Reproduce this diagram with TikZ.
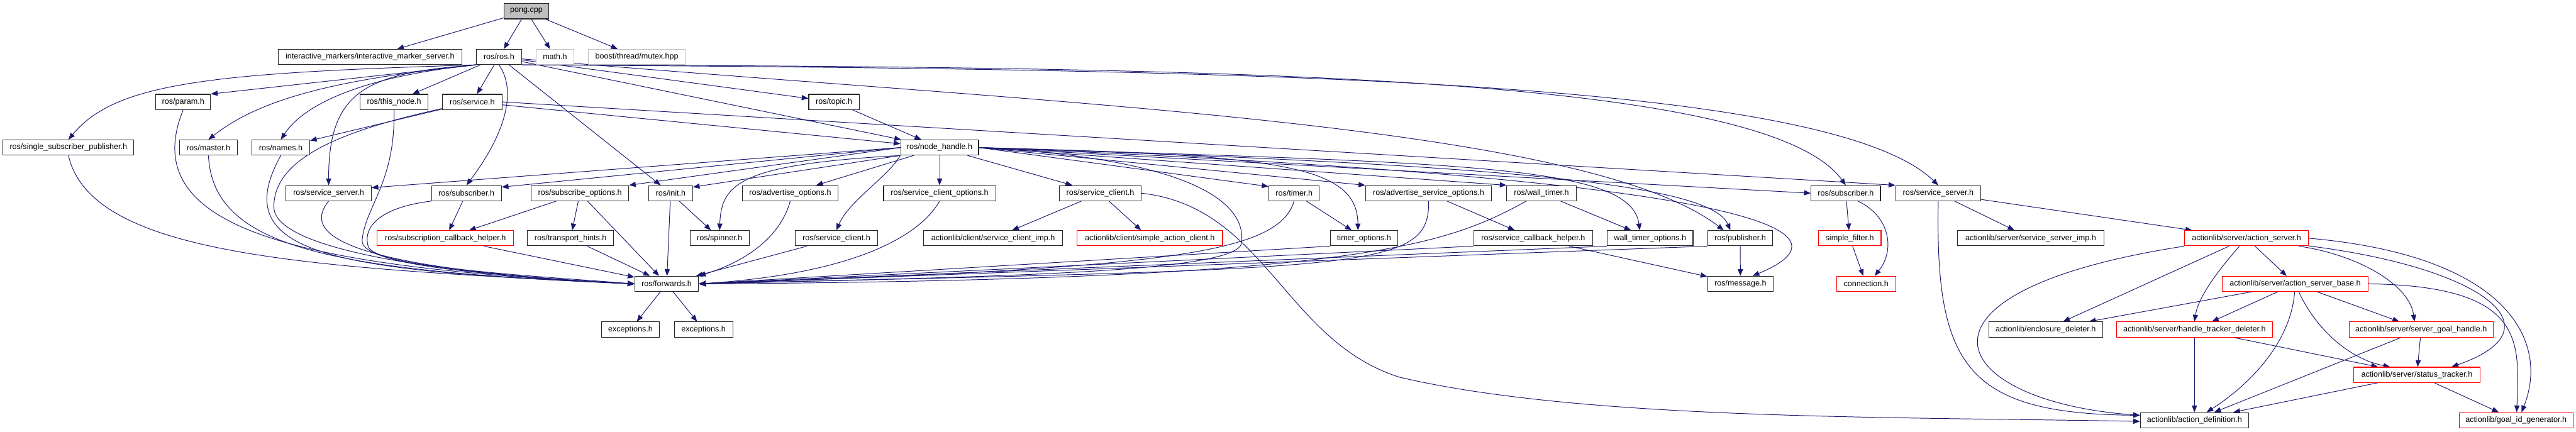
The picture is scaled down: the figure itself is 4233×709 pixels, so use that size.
\documentclass[tikz,border=0pt]{standalone}
\usepackage{fontspec}
\setmainfont{Liberation Sans}
\usetikzlibrary{arrows.meta,backgrounds}
\definecolor{edgeblue}{HTML}{191970}
\definecolor{boxgray}{HTML}{BFBFBF}
\definecolor{boxred}{HTML}{FF0000}
\newcommand{\mynode}[6]{\node[#6, minimum width=#4pt] (#1) at (#2,#3) {#5};}
\begin{document}
\begin{tikzpicture}[x=1pt,y=-1pt,
  box/.style={draw=black!85, line width=1.1pt, fill=white, minimum height=25pt, inner sep=0pt, font=\fontsize{13}{15}\selectfont},
  rbox/.style={box, draw=boxred},
  gbox/.style={box, draw=boxgray},
  pbox/.style={box, fill=boxgray},
  dep/.style={draw=edgeblue, line width=1pt, -{Triangle[length=11pt,width=8.5pt]}}]
\useasboundingbox (0,0) rectangle (4233,709);
% nodes
\mynode{pong}{865}{18.5}{74}{pong.cpp}{pbox}
\mynode{ims}{608}{93.5}{302}{interactive\_markers/interactive\_marker\_server.h}{box}
\mynode{ros}{820}{93.5}{74}{ros/ros.h}{box}
\mynode{math}{912}{93.5}{62}{math.h}{gbox}
\mynode{mutex}{1046.5}{93.5}{159}{boost/thread/mutex.hpp}{gbox}
\mynode{param}{301}{167.5}{90}{ros/param.h}{box}
\mynode{thisnode}{647.5}{167.5}{111}{ros/this\_node.h}{box}
\mynode{service}{776}{167.5}{98}{ros/service.h}{box}
\mynode{topic}{1370.5}{167.5}{83}{ros/topic.h}{box}
\mynode{ssp}{112.5}{242.5}{215}{ros/single\_subscriber\_publisher.h}{box}
\mynode{master}{342.5}{242.5}{95}{ros/master.h}{box}
\mynode{names}{461.5}{242.5}{95}{ros/names.h}{box}
\mynode{nh}{1544}{242.5}{128}{ros/node\_handle.h}{box}
\mynode{ssL}{540}{317.5}{140}{ros/service\_server.h}{box}
\mynode{subL}{766.5}{317.5}{115}{ros/subscriber.h}{box}
\mynode{subopt}{953}{317.5}{160}{ros/subscribe\_options.h}{box}
\mynode{init}{1102}{317.5}{72}{ros/init.h}{box}
\mynode{advopt}{1298.5}{317.5}{157}{ros/advertise\_options.h}{box}
\mynode{sco}{1544}{317.5}{184}{ros/service\_client\_options.h}{box}
\mynode{scfour}{1808}{317.5}{134}{ros/service\_client.h}{box}
\mynode{timer}{2126.5}{317.5}{83}{ros/timer.h}{box}
\mynode{asopt}{2347.5}{317.5}{207}{ros/advertise\_service\_options.h}{box}
\mynode{wtimer}{2533}{317.5}{114}{ros/wall\_timer.h}{box}
\mynode{subR}{3033}{317.5}{114}{ros/subscriber.h}{box}
\mynode{ssR}{3185}{317.5}{140}{ros/service\_server.h}{box}
\mynode{sch}{732}{391.5}{224}{ros/subscription\_callback\_helper.h}{rbox}
\mynode{thints}{937.5}{391.5}{141}{ros/transport\_hints.h}{box}
\mynode{spinner}{1182.5}{391.5}{97}{ros/spinner.h}{box}
\mynode{scfive}{1374.5}{391.5}{135}{ros/service\_client.h}{box}
\mynode{scimp}{1632}{391.5}{228}{actionlib/client/service\_client\_imp.h}{box}
\mynode{sac}{1889.5}{391.5}{239}{actionlib/client/simple\_action\_client.h}{rbox}
\mynode{topt}{2241.5}{391.5}{111}{timer\_options.h}{box}
\mynode{scbh}{2519.5}{391.5}{195}{ros/service\_callback\_helper.h}{box}
\mynode{wtopt}{2711.5}{391.5}{141}{wall\_timer\_options.h}{box}
\mynode{pub}{2859.5}{391.5}{107}{ros/publisher.h}{box}
\mynode{sfilter}{3039.5}{391.5}{103}{simple\_filter.h}{rbox}
\mynode{ssimp}{3337}{391.5}{240}{actionlib/server/service\_server\_imp.h}{box}
\mynode{as}{3691.5}{391.5}{203}{actionlib/server/action\_server.h}{rbox}
\mynode{fwd}{1095.5}{466.5}{105}{ros/forwards.h}{box}
\mynode{msg}{2860}{466.5}{108}{ros/message.h}{box}
\mynode{conn}{3066.5}{466.5}{97}{connection.h}{rbox}
\mynode{asb}{3771.5}{466.5}{239}{actionlib/server/action\_server\_base.h}{rbox}
\mynode{excone}{1036}{541.5}{96}{exceptions.h}{box}
\mynode{exctwo}{1156}{541.5}{96}{exceptions.h}{box}
\mynode{encl}{3361.5}{541.5}{187}{actionlib/enclosure\_deleter.h}{box}
\mynode{htd}{3606}{541.5}{256}{actionlib/server/handle\_tracker\_deleter.h}{rbox}
\mynode{sgh}{3978.5}{541.5}{237}{actionlib/server/server\_goal\_handle.h}{rbox}
\mynode{st}{3971.5}{616}{207}{actionlib/server/status\_tracker.h}{rbox}
\mynode{ad}{3606}{690.5}{178}{actionlib/action\_definition.h}{box}
\mynode{gid}{4134.5}{690.5}{187}{actionlib/goal\_id\_generator.h}{rbox}
\begin{scope}[on background layer]
\fill[white] (0,0) rectangle (4233,709);
% pong
\draw[dep] (pong) -- (ims);
\draw[dep] (pong) -- (ros);
\draw[dep] (pong) -- (math);
\draw[dep] (pong) -- (mutex);
% ros
\draw[dep] (ros.south west) .. controls (350,120) and (190,135) .. (ssp.north);
\draw[dep] (ros.south west) -- (param.north east);
\draw[dep] (ros.south west) .. controls (560,130) and (430,160) .. (master.north);
\draw[dep] (ros.south west) .. controls (600,125) and (500,170) .. (names.north);
\draw[dep] (ros) -- (thisnode);
\draw[dep] (ros) -- (service);
\draw[dep] (ros.south west) .. controls (600,120) and (540,150) .. (ssL.north);
\draw[dep] (ros.south) .. controls (850,150) and (830,220) .. (subL.north);
\draw[dep] (ros) -- (init);
\draw[dep] (ros) -- (nh);
\draw[dep] (ros) -- (topic);
\draw[dep] (ros) .. controls (1700,170) and (2600,200) .. ([xshift=-27pt]pub.north);
\draw[dep] (ros.south east) .. controls (2000,110) and (2900,120) .. (subR.north);
\draw[dep] (ros.south east) .. controls (2000,114) and (3000,125) .. (ssR.north);
% service
\draw[dep] (service) -- (names);
\draw[dep] (service) .. controls (560,215) and (450,260) .. (450,340) .. controls (450,420) and (800,455) .. (fwd.west);
\draw[dep] (service) -- (nh);
\draw[dep] (service.east) -- (ssR.north west);
\draw[dep] (topic) -- (nh);
% into forwards from the left
\draw[dep] (ssp.south) .. controls (150,420) and (500,440) .. (fwd.west);
\draw[dep] (param.south) .. controls (220,380) and (500,440) .. (fwd.west);
\draw[dep] (master.south) .. controls (350,410) and (550,445) .. (fwd.west);
\draw[dep] (names.south) .. controls (370,420) and (550,445) .. (fwd.west);
\draw[dep] (thisnode.south) .. controls (650,300) and (600,340) .. (595,395) .. controls (592,440) and (850,455) .. (fwd.west);
\draw[dep] (ssL.south) .. controls (500,380) and (540,440) .. (fwd.west);
\draw[dep] (subL) -- (sch);
\draw[dep] (subL.south west) .. controls (630,340) and (595,370) .. (605,405) .. controls (615,440) and (900,455) .. (fwd.west);
\draw[dep] (subopt) -- (sch);
\draw[dep] (subopt) -- (thints);
\draw[dep] (subopt) -- (fwd);
\draw[dep] (sch) -- (fwd);
\draw[dep] (thints) -- (fwd);
\draw[dep] (init) -- (fwd);
\draw[dep] (init) -- (spinner);
\draw[dep] (advopt.south) .. controls (1285,380) and (1240,425) .. (fwd.north east);
% node_handle
\draw[dep] (nh.west) -- ([yshift=-4pt]ssL.north east);
\draw[dep] (nh.west) -- ([yshift=-3pt]subL.north east);
\draw[dep] (nh.west) -- (subopt.north east);
\draw[dep] (nh.south west) -- ([yshift=-3pt]init.north east);
\draw[dep] (nh) -- (advopt);
\draw[dep] (nh) -- (sco);
\draw[dep] (nh) -- (scfour);
\draw[dep] (nh.east) -- ([yshift=-2pt]timer.north west);
\draw[dep] (nh.east) -- (asopt.north west);
\draw[dep] (nh.east) -- (wtimer.north west);
\draw[dep] (nh.east) .. controls (2100,255) and (2230,270) .. ([xshift=-10pt]topt.north);
\draw[dep] (nh.east) .. controls (2400,268) and (2680,270) .. ([xshift=-17pt]wtopt.north);
\draw[dep] (nh.east) .. controls (2450,270) and (2810,300) .. ([xshift=-16pt]pub.north);
\draw[dep] (nh.east) -- (subR.west);
\draw[dep] (nh.east) .. controls (2800,290) and (3080,370) .. ([xshift=20pt]msg.north);
\draw[dep] (nh.south west) .. controls (1220,270) and (1185,300) .. (spinner.north);
\draw[dep] (nh.south west) .. controls (1460,290) and (1395,330) .. (scfive.north);
\draw[dep] (nh.east) .. controls (1950,260) and (2050,330) .. (2040,400) .. controls (2030,450) and (1600,455) .. (fwd.east);
% service clients
\draw[dep] (sco.south) .. controls (1510,390) and (1400,450) .. (fwd.east);
\draw[dep] (scfive) -- (fwd);
\draw[dep] (scfour) -- (scimp);
\draw[dep] (scfour) -- (sac);
\draw[dep] (scfour.east) .. controls (2080,340) and (2110,560) .. (2300,620) .. controls (2600,690) and (3100,685) .. ([yshift=-2pt]ad.west);
% timers and options
\draw[dep] (timer) -- (topt);
\draw[dep] (timer.south) .. controls (2100,420) and (1900,440) .. (fwd.east);
\draw[dep] (asopt) -- (scbh);
\draw[dep] (asopt.south) .. controls (2350,445) and (2250,440) .. (fwd.east);
\draw[dep] (wtimer) -- (wtopt);
\draw[dep] ([xshift=-25pt]wtimer.south) .. controls (2380,400) and (2250,460) .. (fwd.east);
\draw[dep] (topt.south west) -- (fwd.east);
\draw[dep] (scbh.south west) -- (fwd.east);
\draw[dep] (scbh) -- (msg);
\draw[dep] (wtopt.south west) -- (fwd.east);
\draw[dep] (pub.south west) -- (fwd.east);
\draw[dep] (pub) -- (msg);
% subscriber / service server (right)
\draw[dep] (subR) -- (sfilter);
\draw[dep] ([xshift=20pt]subR.south) .. controls (3105,355) and (3115,410) .. ([xshift=14pt]conn.north);
\draw[dep] (sfilter) -- (conn);
\draw[dep] (ssR) -- (ssimp);
\draw[dep] (ssR) -- (as);
\draw[dep] (ssR.south) .. controls (3180,600) and (3230,680) .. ([yshift=8pt]ad.west);
% action server
\draw[dep] (as.south west) .. controls (3100,480) and (3200,660) .. ([yshift=8pt]ad.west);
\draw[dep] (as) -- (encl);
\draw[dep] (as) .. controls (3640,450) and (3612,490) .. (htd.north);
\draw[dep] (as) -- (asb);
\draw[dep] (as) .. controls (3880,420) and (3960,470) .. ([xshift=-11pt]sgh.north);
\draw[dep] (as) .. controls (4080,440) and (4210,540) .. ([xshift=57pt]st.north);
\draw[dep] (as.east) .. controls (4120,420) and (4190,560) .. ([xshift=9pt]gid.north);
\draw[dep] (asb) -- (encl);
\draw[dep] (asb) -- (htd);
\draw[dep] (asb) .. controls (3765,560) and (3700,630) .. ([xshift=20pt]ad.north);
\draw[dep] (asb) .. controls (3805,540) and (3860,590) .. ([xshift=-44pt]st.north);
\draw[dep] (asb) -- (sgh);
\draw[dep] (asb.east) .. controls (4150,470) and (4140,560) .. ([xshift=1pt]gid.north);
\draw[dep] (htd) -- (ad);
\draw[dep] (htd) -- (st);
\draw[dep] (sgh) -- (ad);
\draw[dep] (sgh) -- (st);
\draw[dep] (st) -- (ad);
\draw[dep] (st) -- (gid);
% forwards
\draw[dep] (fwd) -- (excone);
\draw[dep] (fwd) -- (exctwo);
\end{scope}
\end{tikzpicture}
\end{document}
